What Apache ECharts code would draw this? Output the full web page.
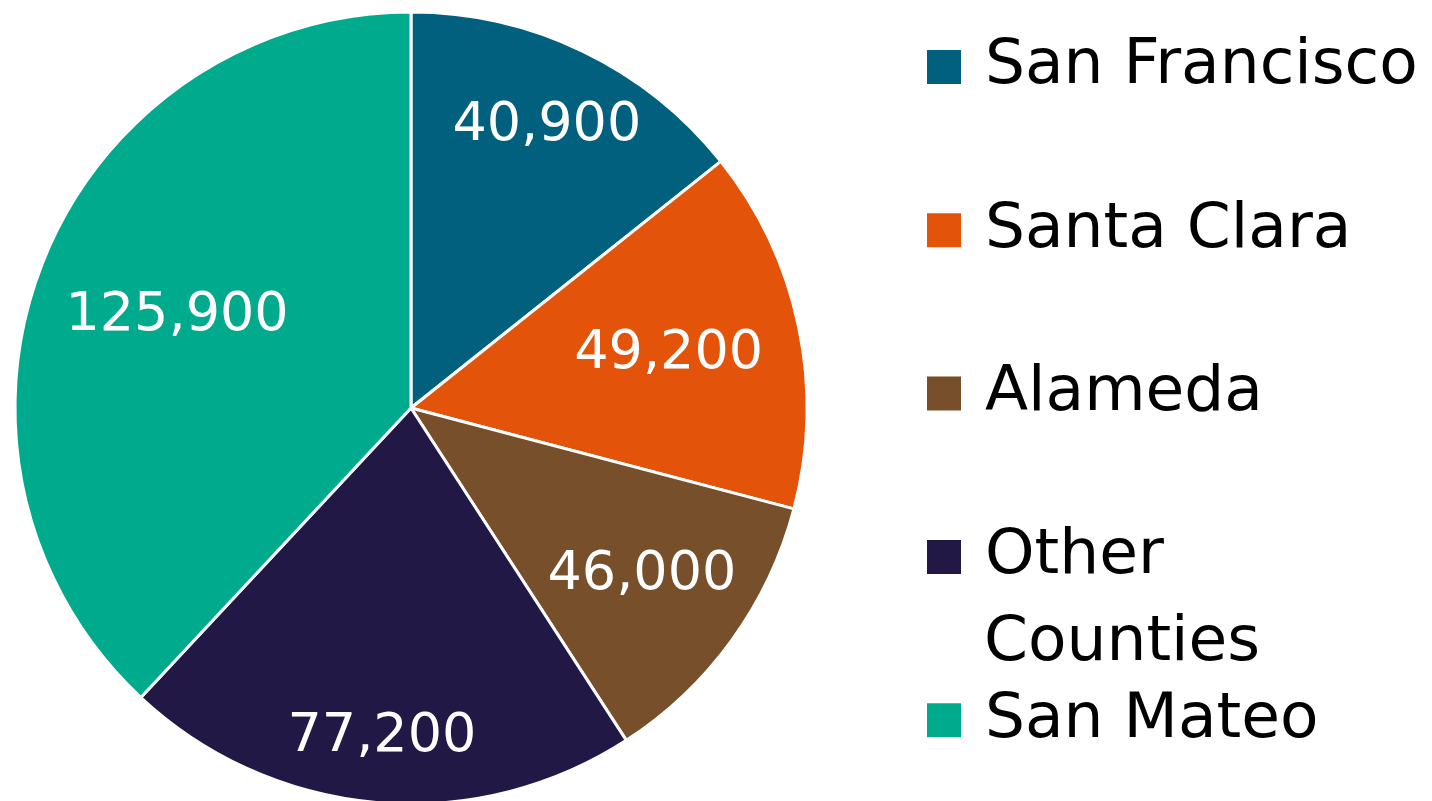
<!DOCTYPE html>
<html>
<head>
<meta charset="utf-8">
<script src="https://cdn.jsdelivr.net/npm/echarts@6/dist/echarts.min.js"></script>
<style>
  html, body { margin: 0; padding: 0; background: #fff; }
  #chart { width: 1432px; height: 801px; }
</style>
</head>
<body>
<div id="chart"></div>
<script>
// counties, in drawing order (clockwise from 12 o'clock)
var counties = ['San Francisco', 'Santa Clara', 'Alameda', 'Other Counties', 'San Mateo'];
// numbers printed on the slices
var labelValues = [40900, 49200, 46000, 77200, 125900];
// slice sizes as drawn (share of the circle, %)
var sliceShares = [14.3, 14.8, 11.75, 21.1, 38.05];
var colors = ['#02607F', '#E3530A', '#774F2A', '#211846', '#00AA8C'];

// how far out each number sits, as a fraction of the radius
var labelRadius = [0.79, 0.665, 0.72, 0.835, 0.635];

var font = '"DejaVu Sans", sans-serif';
var cx = 411, cy = 408, R = 396;

var chart = echarts.init(document.getElementById('chart'));

var pieData = [];
var legendData = [];
for (var i = 0; i < counties.length; i++) {
  pieData.push({ name: counties[i], value: sliceShares[i] });
  legendData.push({ name: counties[i], itemStyle: { color: colors[i] } });
}

function fmt(n) {
  return n.toString().replace(/\B(?=(\d{3})+(?!\d))/g, ',');
}

var option = {
  animation: false,
  color: colors,
  legend: {
    orient: 'vertical',
    left: 925,
    top: 22,
    padding: 0,
    itemWidth: 36,
    itemHeight: 36,
    itemGap: 73.3,
    icon: 'rect',
    selectedMode: false,
    data: legendData,
    // second line of "Other Counties" is drawn below, like the original
    formatter: function (name) {
      return name === 'Other Counties' ? 'Other' : name;
    },
    textStyle: {
      fontFamily: font,
      fontSize: 63,
      lineHeight: 84,
      color: '#000',
      padding: [6, 0, 0, 18]
    }
  },
  graphic: [{
    type: 'text',
    x: 984,
    y: 644,
    silent: true,
    style: {
      text: 'Counties',
      font: '63px ' + font,
      fill: '#000',
      verticalAlign: 'middle'
    }
  }],
  series: [
    {
      type: 'pie',
      center: [cx, cy],
      radius: [0, R],
      startAngle: 90,
      clockwise: true,
      labelLine: { show: false },
      emphasis: { disabled: true },
      itemStyle: { borderColor: '#fff', borderWidth: 3 },
      label: {
        show: true,
        position: 'inside',
        fontFamily: font,
        fontSize: 54,
        color: '#fff',
        padding: [6, 0, 0, 0],
        formatter: function (p) { return fmt(labelValues[p.dataIndex]); }
      },
      labelLayout: function (p) {
        var r = p.labelRect;
        var lx = r.x + r.width / 2, ly = r.y + r.height / 2;
        var vx = lx - cx, vy = ly - cy;
        var d = Math.sqrt(vx * vx + vy * vy) || 1;
        var k = labelRadius[p.dataIndex] * R / d - 1;
        return { dx: vx * k, dy: vy * k };
      },
      data: pieData
    }
  ]
};

chart.setOption(option);
</script>
</body>
</html>
